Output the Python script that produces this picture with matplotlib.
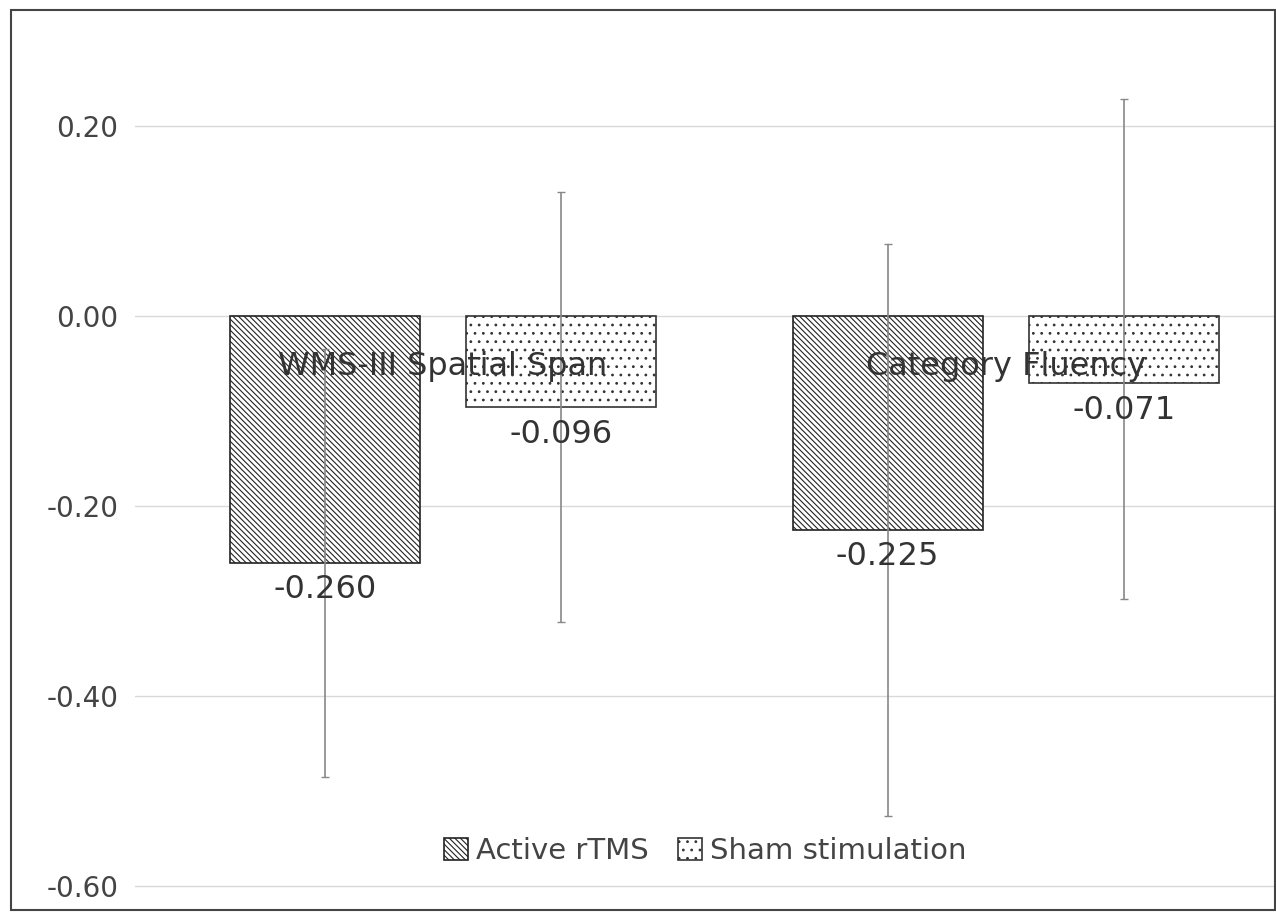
import matplotlib
matplotlib.use("Agg")
import matplotlib.pyplot as plt
import numpy as np
from matplotlib.patches import Rectangle

categories = ["WMS-III Spatial Span", "Category Fluency"]
active = [-0.260, -0.225]
sham = [-0.096, -0.071]
active_err_low = [0.225, 0.301]
active_err_high = [0.225, 0.301]
sham_err_low = [0.226, 0.227]
sham_err_high = [0.226, 0.299]
yticks = [0.20, 0.00, -0.20, -0.40, -0.60]

plt.rcParams['hatch.linewidth'] = 0.8
fig = plt.figure(figsize=(12.76, 9.13), dpi=100)
fig.patches.append(Rectangle((0.009, 0.003), 0.99, 0.986, transform=fig.transFigure,
                             fill=False, edgecolor="#444444", lw=1.5))
ax = fig.add_axes([0.106, 0.0192, 0.894, 0.947])
x = np.arange(len(categories))
w = 0.337
gap = 0.083
xa = x - (w + gap) / 2
xs = x + (w + gap) / 2
ax.bar(xa, active, w, color="white", edgecolor="#222222", hatch="\\\\\\\\\\\\", lw=1.2, label="Active rTMS", zorder=2)
ax.bar(xs, sham, w, color="white", edgecolor="#333333", hatch="..", lw=1.2, label="Sham stimulation", zorder=2)
ax.errorbar(xa, active, yerr=[active_err_low, active_err_high], fmt="none", ecolor="#888888", elinewidth=1.2, capsize=3, zorder=3)
ax.errorbar(xs, sham, yerr=[sham_err_low, sham_err_high], fmt="none", ecolor="#888888", elinewidth=1.2, capsize=3, zorder=3)
for xi, v in zip(list(xa) + list(xs), active + sham):
    ax.text(xi, v - 0.012, f"{v:.3f}", ha="center", va="top", fontsize=23, color="#333333", zorder=4)
for xi, c in zip(x, categories):
    ax.text(xi, -0.053, c, ha="center", va="center", fontsize=23, color="#333333", zorder=4)
ax.set_ylim(-0.61, 0.3)
ax.set_xlim(-0.547, 1.48)
ax.set_yticks(yticks)
ax.set_yticklabels([f"{t:.2f}" for t in yticks], fontsize=20, color="#444444")
ax.set_xticks([])
ax.grid(axis="y", color="#d9d9d9", lw=1, zorder=0)
for s in ax.spines.values():
    s.set_visible(False)
ax.tick_params(axis="y", length=0, pad=12)
ax.set_axisbelow(True)
ax.legend(loc="lower center", bbox_to_anchor=(0.5, 0.005), ncol=2, frameon=False,
          fontsize=21, handlelength=0.8, handleheight=0.8, columnspacing=1.0, handletextpad=0.3,
          labelcolor="#444444")
fig.savefig("out.png", dpi=100)
